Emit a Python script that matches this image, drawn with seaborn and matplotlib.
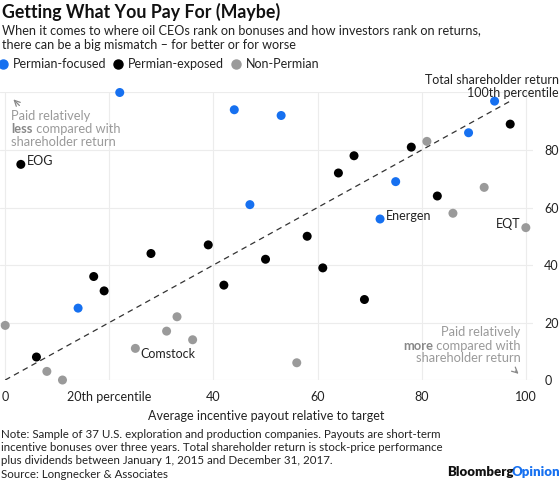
import numpy as np
import pandas as pd
import matplotlib.pyplot as plt
import seaborn as sns

# Dati: (payout percentile, total shareholder return percentile)
focused_x = [22, 44, 53, 47, 94, 89, 75, 72, 14]
focused_y = [100, 94, 92, 61, 97, 86, 69, 56, 25]
exposed_x = [3, 97, 78, 67, 64, 83, 39, 28, 50, 17, 42, 19, 6, 58, 61, 69]
exposed_y = [75, 89, 81, 78, 72, 64, 47, 44, 42, 36, 33, 31, 8, 50, 39, 28]
non_x = [81, 92, 86, 100, 0, 33, 31, 36, 25, 8, 11, 56]
non_y = [83, 67, 58, 53, 19, 22, 17, 14, 11, 3, 0, 6]
groups = ['Permian-focused', 'Permian-exposed', 'Non-Permian']
company_names = ['EOG', 'Energen', 'EQT', 'Comstock']
x_ticks = [0, 20, 40, 60, 80, 100]
x_ticklabels = ['0', '20th percentile', '40', '60', '80', '100']
y_ticks = [0, 20, 40, 60, 80]

df = pd.DataFrame({
    'payout': focused_x + exposed_x + non_x,
    'tsr': focused_y + exposed_y + non_y,
    'group': [groups[0]] * len(focused_x) + [groups[1]] * len(exposed_x) + [groups[2]] * len(non_x),
})

sns.set_style('white')
plt.rcParams['font.family'] = ['Lato', 'DejaVu Sans']
blue, black, grey = '#1670f0', '#000000', '#9a9a9a'
palette = {groups[0]: blue, groups[1]: black, groups[2]: grey}
txt = '#222222'
fs = 9

fig = plt.figure(figsize=(5.6, 4.8), dpi=100)
ax = fig.add_axes([0.0, 0.2083, 0.952, 0.599])

# Griglia e diagonale
for v in x_ticks:
    ax.axvline(v, color='#ececec', lw=0.8, zorder=0)
    ax.axhline(v, color='#ececec', lw=0.8, zorder=0)
ax.plot([0, 97], [0, 97], ls=(0, (4.5, 3.5)), color='#333333', lw=0.9, zorder=1)

sns.scatterplot(data=df, x='payout', y='tsr', hue='group', palette=palette,
                s=42, linewidth=0, legend=False, ax=ax, zorder=3, clip_on=False)

ax.set_xlim(-1, 101.4)
ax.set_ylim(0, 100)
for s in ax.spines.values():
    s.set_visible(False)
ax.set_xticks(x_ticks)
ax.set_xticklabels(x_ticklabels)
ax.yaxis.tick_right()
ax.set_yticks(y_ticks)
ax.tick_params(length=0, labelsize=fs, colors=txt)
ax.tick_params(axis='y', pad=8)
ax.tick_params(axis='x', pad=8)
ax.set_ylabel('')
ax.set_xlabel('Average incentive payout relative to target', fontsize=fs, color=txt, labelpad=5)

# Etichette aziende
ax.text(4.2, 76.2, company_names[0], fontsize=fs, color=txt, va='center')
ax.text(73.1, 57.0, company_names[1], fontsize=fs, color=txt, va='center')
ax.text(99.0, 54.3, company_names[2], fontsize=fs, color=txt, va='center', ha='right')
ax.text(25.9, 9.2, company_names[3], fontsize=fs, color=txt, va='center')

# Annotazioni
ann = '#9a9a9a'
afs = 9.3
ax.annotate('', xy=(1.2, 98.3), xytext=(3.1, 94.8),
            arrowprops=dict(arrowstyle='->', color='#888888', lw=0.9))
ax.text(1.15, 91.9, 'Paid relatively', fontsize=afs, color=ann, va='center')
t = ax.text(1.15, 87.3, 'less', fontsize=afs, color='#888888', va='center', fontweight='bold')
ax.annotate(' compared with', xy=(1, 0.5), xycoords=t, va='center', fontsize=afs, color=ann)
ax.text(1.15, 82.8, 'shareholder return', fontsize=afs, color=ann, va='center')

ax.text(99.0, 16.6, 'Paid relatively', fontsize=afs, color=ann, va='center', ha='right')
t2 = ax.text(99.0, 12.0, ' compared with', fontsize=afs, color=ann, va='center', ha='right')
ax.annotate('more', xy=(0, 0.5), xycoords=t2, va='center', ha='right', fontsize=afs,
            color='#888888', fontweight='bold')
ax.text(99.0, 7.7, 'shareholder return', fontsize=afs, color=ann, va='center', ha='right')
ax.annotate('', xy=(99.0, 1.5), xytext=(97.6, 3.8),
            arrowprops=dict(arrowstyle='->', color='#888888', lw=0.9))

# Titolo, sottotitolo, legenda
fig.text(0.004, 0.975, 'Getting What You Pay For (Maybe)', fontsize=12.8, fontweight='bold',
         color='#111111', va='center')
fig.text(0.004, 0.9375, 'When it comes to where oil CEOs rank on bonuses and how investors rank on returns,',
         fontsize=9.1, color=txt, va='center')
fig.text(0.004, 0.906, 'there can be a big mismatch \u2013 for better or for worse',
         fontsize=9.1, color=txt, va='center')
leg_x = [0.0054, 0.211, 0.421]
for xx, g in zip(leg_x, groups):
    fig.lines.append(plt.Line2D([xx], [0.8667], marker='o', ms=6.5, color=palette[g],
                                ls='', transform=fig.transFigure))
    fig.text(xx + 0.0175, 0.8667, g, fontsize=fs, color=txt, va='center')

fig.text(0.998, 0.833, 'Total shareholder return', fontsize=fs, color=txt, ha='right', va='center')
fig.text(0.998, 0.806, '100th percentile', fontsize=fs, color=txt, ha='right', va='center')

# Note
note_lines = ['Note: Sample of 37 U.S. exploration and production companies. Payouts are short-term',
              'incentive bonuses over three years. Total shareholder return is stock-price performance',
              'plus dividends between January 1, 2015 and December 31, 2017.',
              'Source: Longnecker & Associates']
for i, line in enumerate(note_lines):
    fig.text(0.002, 1 - (434.5 + 13.2 * i) / 480, line, fontsize=8.3, color=txt, va='center')
b = fig.text(0.798, 1 - 472.5 / 480, 'Bloomberg', fontsize=9.5, fontweight='heavy', color='#111111', va='center')
ax.annotate('Opinion', xy=(1, 0.5), xycoords=b, xytext=(-1.5, 0), textcoords='offset points',
            va='center', fontsize=9.5, fontweight='heavy', color=blue)

fig.savefig('out.png', dpi=100)
